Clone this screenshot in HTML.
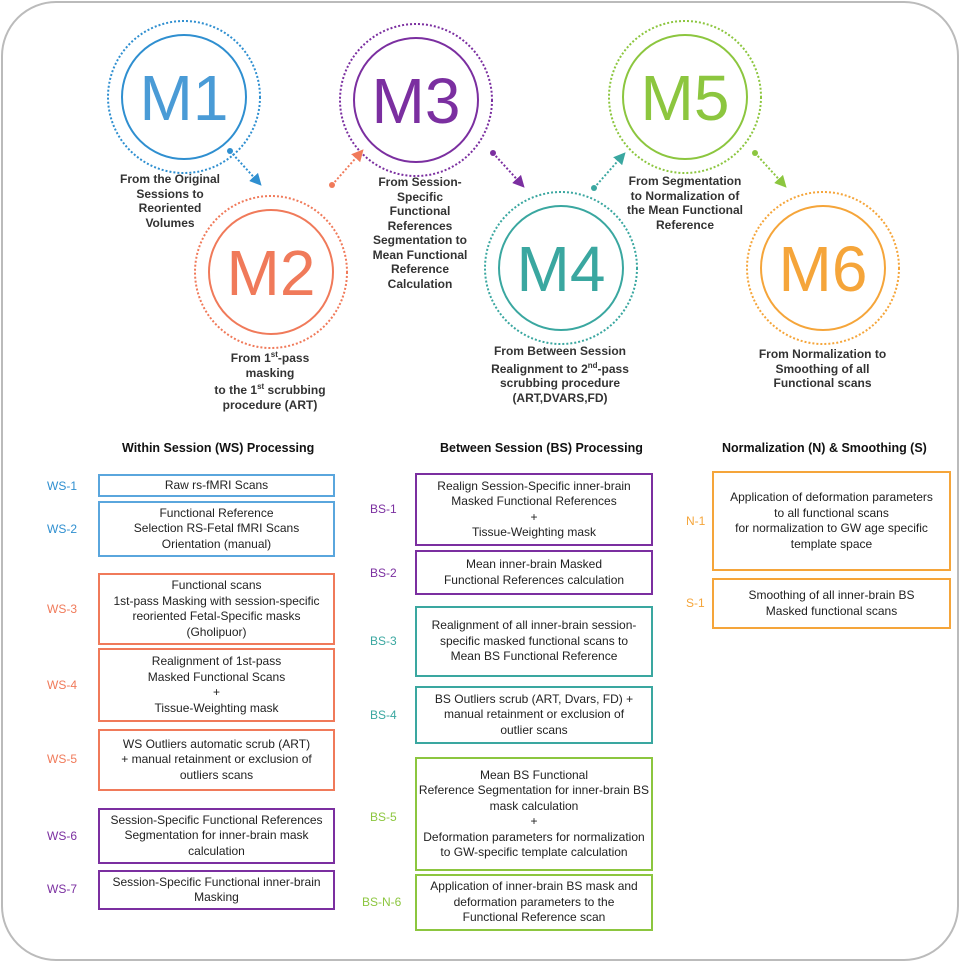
<!DOCTYPE html><html><head><style>
body{margin:0;width:960px;height:962px;background:#fff;font-family:"Liberation Sans",sans-serif;position:relative;overflow:hidden}
.frame{position:absolute;left:1px;top:1px;width:954px;height:956px;border:2px solid #bbb;border-radius:55px}
.cap{position:absolute;font-weight:bold;font-size:12px;line-height:14.5px;color:#333;text-align:center}
.b{position:absolute;border:2px solid;box-sizing:border-box;display:flex;align-items:center;justify-content:center;text-align:center;font-size:12px;line-height:15.5px;color:#222}
.l{position:absolute;font-size:12px}
.h{position:absolute;font-weight:bold;font-size:12.5px;color:#111}
</style></head><body>
<div class="frame"></div>
<svg width="960" height="962" style="position:absolute;left:0;top:0" font-family="Liberation Sans, sans-serif">
<defs>
<marker id="a" viewBox="0 0 10 10" refX="8" refY="5" markerWidth="6" markerHeight="6" orient="auto"><path d="M0,0L10,5L0,10z" fill="context-stroke"/></marker>
</defs>
<g fill="none" stroke-width="2">
<g stroke="#2f8fd0"><circle cx="184" cy="97" r="62"/><circle cx="184" cy="97" r="76" stroke-dasharray="2 2"/></g>
<g stroke="#f07a5a"><circle cx="271" cy="272" r="62"/><circle cx="271" cy="272" r="76" stroke-dasharray="2 2"/></g>
<g stroke="#7b2fa0"><circle cx="416" cy="100" r="62"/><circle cx="416" cy="100" r="76" stroke-dasharray="2 2"/></g>
<g stroke="#3aa7a0"><circle cx="561" cy="268" r="62"/><circle cx="561" cy="268" r="76" stroke-dasharray="2 2"/></g>
<g stroke="#8cc63f"><circle cx="685" cy="97" r="62"/><circle cx="685" cy="97" r="76" stroke-dasharray="2 2"/></g>
<g stroke="#f5a53a"><circle cx="823" cy="268" r="62"/><circle cx="823" cy="268" r="76" stroke-dasharray="2 2"/></g>
<line x1="230" y1="151" x2="260" y2="184" stroke="#2f8fd0" stroke-dasharray="2 2" marker-end="url(#a)"/>
<line x1="332" y1="185" x2="362" y2="151" stroke="#f07a5a" stroke-dasharray="2 2" marker-end="url(#a)"/>
<line x1="493" y1="153" x2="523" y2="186" stroke="#7b2fa0" stroke-dasharray="2 2" marker-end="url(#a)"/>
<line x1="594" y1="188" x2="624" y2="154" stroke="#3aa7a0" stroke-dasharray="2 2" marker-end="url(#a)"/>
<line x1="755" y1="153" x2="785" y2="186" stroke="#8cc63f" stroke-dasharray="2 2" marker-end="url(#a)"/>
</g>
<circle cx="230" cy="151" r="3" fill="#2f8fd0"/><circle cx="332" cy="185" r="3" fill="#f07a5a"/><circle cx="493" cy="153" r="3" fill="#7b2fa0"/><circle cx="594" cy="188" r="3" fill="#3aa7a0"/><circle cx="755" cy="153" r="3" fill="#8cc63f"/>
<g font-size="64" text-anchor="middle">
<text x="184" y="120" fill="#4a9bd6">M1</text>
<text x="271" y="295" fill="#f07a5a">M2</text>
<text x="416" y="123" fill="#7b2fa0">M3</text>
<text x="561" y="291" fill="#3aa7a0">M4</text>
<text x="685" y="120" fill="#8cc63f">M5</text>
<text x="823" y="291" fill="#f5a53a">M6</text>
</g></svg>
<div class="cap" style="left:100px;top:172px;width:140px">From the Original<br>Sessions to<br>Reoriented<br>Volumes</div>
<div class="cap" style="left:200px;top:348px;width:140px">From 1<sup style="font-size:8px">st</sup>-pass<br>masking<br>to the 1<sup style="font-size:8px">st</sup> scrubbing<br>procedure (ART)</div>
<div class="cap" style="left:365px;top:175px;width:110px">From Session-<br>Specific<br>Functional<br>References<br>Segmentation to<br>Mean Functional<br>Reference<br>Calculation</div>
<div class="cap" style="left:480px;top:344px;width:160px">From Between Session<br>Realignment to 2<sup style="font-size:8px">nd</sup>-pass<br>scrubbing procedure<br>(ART,DVARS,FD)</div>
<div class="cap" style="left:615px;top:174px;width:140px">From Segmentation<br>to Normalization of<br>the Mean Functional<br>Reference</div>
<div class="cap" style="left:745px;top:347px;width:155px">From Normalization to<br>Smoothing of all<br>Functional scans</div>
<div class="h" style="left:122px;top:441px">Within Session (WS) Processing</div>
<div class="h" style="left:440px;top:441px">Between Session (BS) Processing</div>
<div class="h" style="left:722px;top:441px">Normalization (N) &amp; Smoothing (S)</div>
<div class="l" style="left:47px;top:479px;color:#2f8fd0">WS-1</div>
<div class="l" style="left:47px;top:522px;color:#2f8fd0">WS-2</div>
<div class="l" style="left:47px;top:602px;color:#f07a5a">WS-3</div>
<div class="l" style="left:47px;top:678px;color:#f07a5a">WS-4</div>
<div class="l" style="left:47px;top:752px;color:#f07a5a">WS-5</div>
<div class="l" style="left:47px;top:829px;color:#7b2fa0">WS-6</div>
<div class="l" style="left:47px;top:882px;color:#7b2fa0">WS-7</div>
<div class="b" style="left:98px;top:474px;width:237px;height:23px;border-color:#5aa6dd">Raw rs-fMRI Scans</div>
<div class="b" style="left:98px;top:501px;width:237px;height:56px;border-color:#5aa6dd">Functional Reference<br>Selection RS-Fetal fMRI Scans<br>Orientation (manual)</div>
<div class="b" style="left:98px;top:573px;width:237px;height:72px;border-color:#f07a5a">Functional scans<br>1st-pass Masking with session-specific<br>reoriented Fetal-Specific masks<br>(Gholipuor)</div>
<div class="b" style="left:98px;top:648px;width:237px;height:74px;border-color:#f07a5a">Realignment of 1st-pass<br>Masked Functional Scans<br>+<br>Tissue-Weighting mask</div>
<div class="b" style="left:98px;top:729px;width:237px;height:62px;border-color:#f07a5a">WS Outliers automatic scrub (ART)<br>+ manual retainment or exclusion of<br>outliers scans</div>
<div class="b" style="left:98px;top:808px;width:237px;height:56px;border-color:#7b2fa0">Session-Specific Functional References<br>Segmentation for inner-brain mask<br>calculation</div>
<div class="b" style="left:98px;top:870px;width:237px;height:40px;border-color:#7b2fa0">Session-Specific Functional inner-brain<br>Masking</div>
<div class="l" style="left:370px;top:502px;color:#7b2fa0">BS-1</div>
<div class="l" style="left:370px;top:566px;color:#7b2fa0">BS-2</div>
<div class="l" style="left:370px;top:634px;color:#3aa7a0">BS-3</div>
<div class="l" style="left:370px;top:708px;color:#3aa7a0">BS-4</div>
<div class="l" style="left:370px;top:810px;color:#8cc63f">BS-5</div>
<div class="l" style="left:362px;top:895px;color:#8cc63f">BS-N-6</div>
<div class="b" style="left:415px;top:473px;width:238px;height:73px;border-color:#7b2fa0">Realign Session-Specific inner-brain<br>Masked Functional References<br>+<br>Tissue-Weighting mask</div>
<div class="b" style="left:415px;top:550px;width:238px;height:45px;border-color:#7b2fa0">Mean inner-brain Masked<br>Functional References calculation</div>
<div class="b" style="left:415px;top:606px;width:238px;height:71px;border-color:#3aa7a0">Realignment of all inner-brain session-<br>specific masked functional scans to<br>Mean BS Functional Reference</div>
<div class="b" style="left:415px;top:686px;width:238px;height:58px;border-color:#3aa7a0">BS Outliers scrub (ART, Dvars, FD) +<br>manual retainment or exclusion of<br>outlier scans</div>
<div class="b" style="left:415px;top:757px;width:238px;height:114px;border-color:#8cc63f">Mean BS Functional<br>Reference Segmentation for inner-brain BS<br>mask calculation<br>+<br>Deformation parameters for normalization<br>to GW-specific template calculation</div>
<div class="b" style="left:415px;top:874px;width:238px;height:57px;border-color:#8cc63f">Application of inner-brain BS mask and<br>deformation parameters to the<br>Functional Reference scan</div>
<div class="l" style="left:686px;top:514px;color:#f5a53a">N-1</div>
<div class="l" style="left:686px;top:596px;color:#f5a53a">S-1</div>
<div class="b" style="left:712px;top:471px;width:239px;height:100px;border-color:#f5a53a">Application of deformation parameters<br>to all functional scans<br>for normalization to GW age specific<br>template space</div>
<div class="b" style="left:712px;top:578px;width:239px;height:51px;border-color:#f5a53a">Smoothing of all inner-brain BS<br>Masked functional scans</div>
</body></html>
